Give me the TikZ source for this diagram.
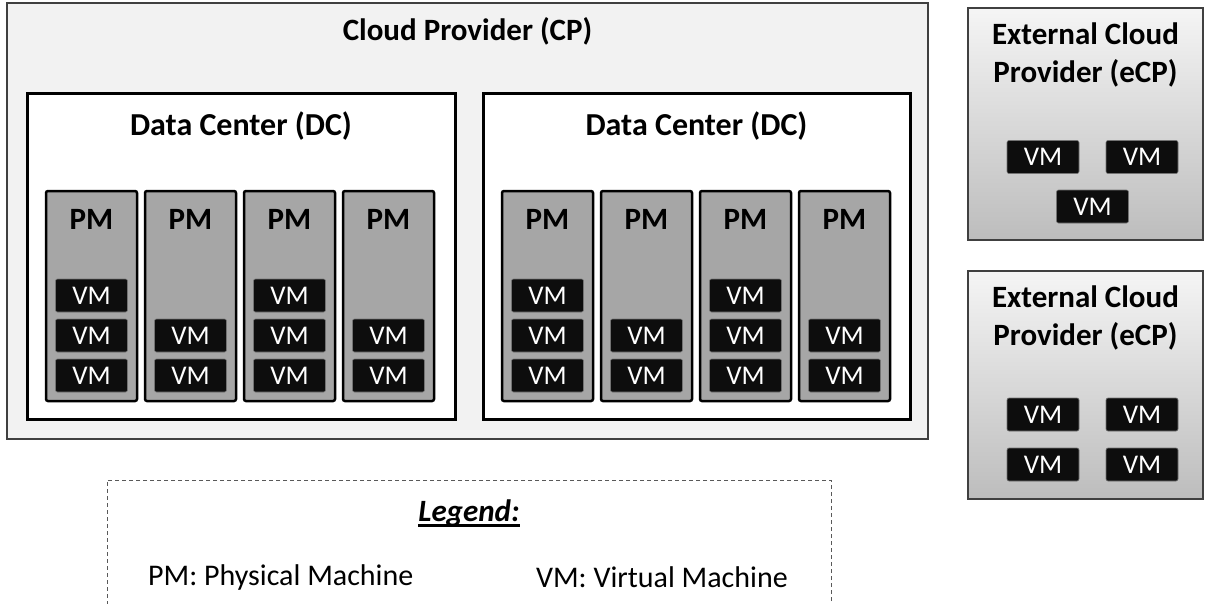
\documentclass[tikz,border=0pt]{standalone}
\usepackage{fontspec}
\setmainfont{Carlito}
\begin{document}
\begin{tikzpicture}[x=1pt,y=-1pt,
  box/.style={rectangle, outer sep=0pt, inner sep=0pt, anchor=north west},
  cpbox/.style={box, draw=black!75, line width=1.2pt, fill=black!5},
  dcbox/.style={box, draw=black, line width=3pt, fill=white},
  pmbox/.style={box, draw=black, line width=2.5pt, fill=black!35, rounded corners=2pt,
    minimum width=91pt, minimum height=210pt},
  vmbox/.style={rectangle, draw=black!55, line width=0.6pt, fill=black!95, rounded corners=2pt,
    text=white, minimum width=72pt, minimum height=33pt, inner sep=0pt,
    font=\fontsize{27}{27}\selectfont},
  ecpbox/.style={box, draw=black!75, line width=1.2pt, top color=black!4, bottom color=black!26,
    minimum width=235pt, minimum height=232pt},
  title/.style={inner sep=0pt, font=\bfseries\fontsize{31}{38}\selectfont, align=center},
  pmlabel/.style={inner sep=0pt, font=\bfseries\fontsize{31}{31}\selectfont},
  legtext/.style={inner sep=0pt, font=\fontsize{30}{30}\selectfont},
  legbox/.style={draw=black!65, line width=1pt, dash pattern=on 4pt off 3pt, fill=white}
]
\clip (0,0) rectangle (1213,603);

% Cloud provider with its two data centers
\node[cpbox, minimum width=921pt, minimum height=436pt] (cp) at (7,3) {};
\node[title] (cpt) at (467.5,31) {Cloud Provider (CP)};

\node[dcbox, minimum width=428pt, minimum height=326pt] (dc1) at (27,93) {};
\node[dcbox, minimum width=427pt, minimum height=326pt] (dc2) at (483,93) {};
\node[title, font=\bfseries\fontsize{32}{38}\selectfont] (dc1t) at (241,126) {Data Center (DC)};
\node[title, font=\bfseries\fontsize{32}{38}\selectfont] (dc2t) at (696.5,126) {Data Center (DC)};

% Physical machines and the virtual machines they host
\foreach \d/\x [count=\i] in {1/46,1/145,1/244,1/343,2/502,2/601,2/700,2/799}{
  \node[pmbox] (pm\i) at (\x,191) {};
  \node[pmlabel] (pm\i t) at (\x+45.5,219) {PM};
}
\foreach \i in {1,3,5,7}{
  \node[vmbox] (vm\i a) at ([xshift=45.5pt,yshift=-104.5pt]pm\i.north west) {VM};
}
\foreach \i in {1,...,8}{
  \node[vmbox] (vm\i b) at ([xshift=45.5pt,yshift=-144.5pt]pm\i.north west) {VM};
  \node[vmbox] (vm\i c) at ([xshift=45.5pt,yshift=-184.5pt]pm\i.north west) {VM};
}

% External cloud providers
\node[ecpbox] (ecp1) at (968,8) {};
\node[title] (ecp1t) at (1085.5,55) {External Cloud\\Provider (eCP)};
\node[vmbox] (e1a) at (1043,157) {VM};
\node[vmbox] (e1b) at (1142,157) {VM};
\node[vmbox] (e1c) at (1092.5,206.5) {VM};

\node[ecpbox, minimum height=228pt] (ecp2) at (968,271) {};
\node[title] (ecp2t) at (1085.5,318) {External Cloud\\Provider (eCP)};
\node[vmbox] (e2a) at (1043,414.5) {VM};
\node[vmbox] (e2b) at (1142,414.5) {VM};
\node[vmbox] (e2c) at (1043,464.5) {VM};
\node[vmbox] (e2d) at (1142,464.5) {VM};

% Legend
\node[box, legbox, minimum width=724pt, minimum height=160pt] (leg) at (107,480) {};
\node[inner sep=0pt, anchor=base, font=\bfseries\itshape\fontsize{31}{31}\selectfont] (legt) at (469,521) {Legend:};
\draw[line width=3pt] ([yshift=-4.5pt]legt.base west) -- ([yshift=-4.5pt]legt.base east);
\node[legtext, anchor=west] (lpm) at (148,577) {PM: Physical Machine};
\node[legtext, anchor=east] (lvm) at (788,577) {VM: Virtual Machine};
\end{tikzpicture}
\end{document}
